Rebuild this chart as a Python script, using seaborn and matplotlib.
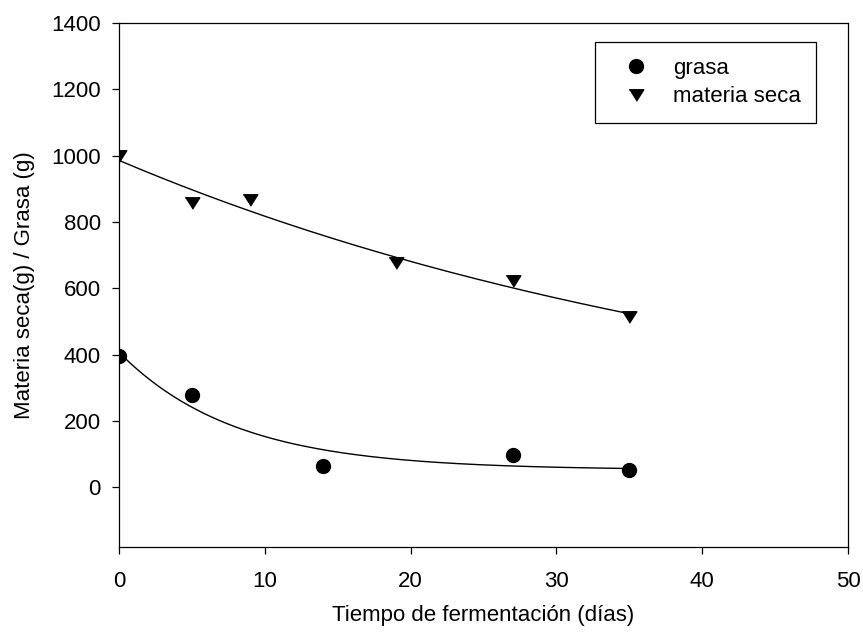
import numpy as np
import pandas as pd
import matplotlib
matplotlib.use("Agg")
import matplotlib.pyplot as plt
import seaborn as sns

# Measured values
grasa_dias = [0, 5, 14, 27, 35]
grasa_g = [396, 277, 63, 96, 51]
ms_dias = [0, 5, 9, 19, 27, 35]
ms_g = [1000, 856, 866, 675, 623, 514]

x_ticks = [0, 10, 20, 30, 40, 50]
y_ticks = [0, 200, 400, 600, 800, 1000, 1200, 1400]


def fit_exp_decay(x, y):
    """Least-squares fit of y = y0 + a*exp(-b*x) (grid search on b)."""
    x = np.asarray(x, float)
    y = np.asarray(y, float)
    best = None
    for b in np.linspace(0.001, 1.0, 20000):
        A = np.column_stack([np.ones_like(x), np.exp(-b * x)])
        coef, *_ = np.linalg.lstsq(A, y, rcond=None)
        sse = np.sum((A @ coef - y) ** 2)
        if best is None or sse < best[0]:
            best = (sse, coef[0], coef[1], b)
    _, y0, a, b = best
    return lambda t: y0 + a * np.exp(-b * t)


sns.set_theme(style="ticks")
plt.rcParams["font.family"] = ["Liberation Sans", "DejaVu Sans"]
plt.rcParams["font.size"] = 16
for key in ("text.color", "axes.labelcolor", "xtick.color", "ytick.color",
            "axes.edgecolor"):
    plt.rcParams[key] = "black"

fig = plt.figure(figsize=(8.63, 6.35), dpi=100)
ax = fig.add_axes([119 / 863, 1 - 547 / 635, (848 - 119) / 863, (547 - 23) / 635])

df_g = pd.DataFrame({"dias": grasa_dias, "valor": grasa_g})
df_m = pd.DataFrame({"dias": ms_dias, "valor": ms_g})

# regression curves
f_g = fit_exp_decay(grasa_dias, grasa_g)
f_m = fit_exp_decay(ms_dias, ms_g)
t_g = np.linspace(min(grasa_dias), max(grasa_dias), 200)
t_m = np.linspace(min(ms_dias), max(ms_dias), 200)
sns.lineplot(x=t_g, y=f_g(t_g), ax=ax, color="black", lw=1.0, zorder=2)
sns.lineplot(x=t_m, y=f_m(t_m), ax=ax, color="black", lw=1.0, zorder=2)

tri_down = [(-1, 0.786), (1, 0.786), (0, -0.786)]
ax.plot(df_g["dias"], df_g["valor"], linestyle="none", marker="o", ms=10,
        color="black", mec="black", label="grasa", zorder=3)
ax.plot(df_m["dias"], df_m["valor"], linestyle="none", marker=tri_down, ms=10.5,
        color="black", mec="black", label="materia seca", zorder=3)

ax.set_xlim(0, 50)
ax.set_ylim(-180, 1400)
ax.set_xticks(x_ticks)
ax.set_yticks(y_ticks)
ax.tick_params(axis="both", direction="out", length=5, width=0.9, color="black",
               labelcolor="black", labelsize=16, top=False, right=False)
ax.tick_params(axis="x", pad=12)
ax.tick_params(axis="y", pad=8)
for s in ax.spines.values():
    s.set_visible(True)
    s.set_linewidth(0.9)
    s.set_color("black")

ax.set_xlabel("Tiempo de fermentación (días)", fontsize=16, labelpad=10, color="black")
ax.set_ylabel("Materia seca(g) / Grasa (g)", fontsize=16, labelpad=12, color="black")

leg = ax.legend(loc="upper left", bbox_to_anchor=((595 - 119) / 729, (547 - 42) / 524),
                borderaxespad=0, frameon=True, fancybox=False, edgecolor="black",
                framealpha=1, fontsize=16, borderpad=0.7, handlelength=2.3,
                handletextpad=0.5, labelspacing=0.35)
leg.get_frame().set_linewidth(0.9)
for txt in leg.get_texts():
    txt.set_color("black")

fig.savefig("out.png", dpi=100)
